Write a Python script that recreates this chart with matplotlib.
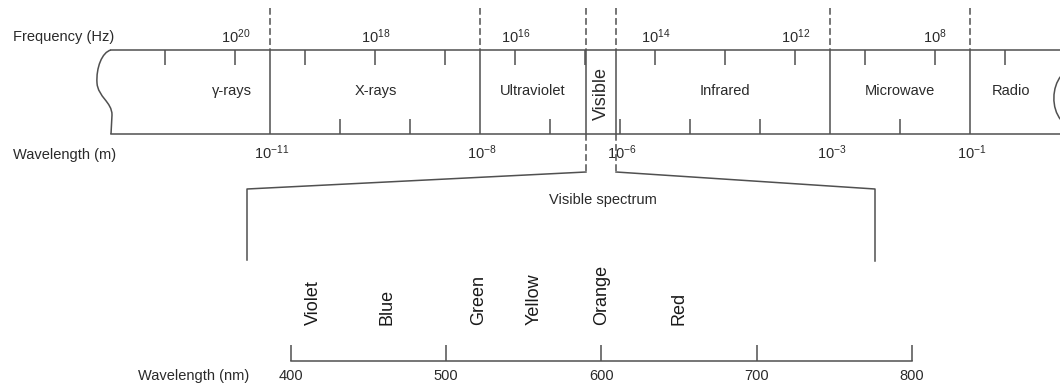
import numpy as np
import matplotlib
matplotlib.use('Agg')
from matplotlib import pyplot as plt
from matplotlib.path import Path
from matplotlib.patches import PathPatch

plt.rcParams['font.family'] = ['Liberation Sans', 'DejaVu Sans']
plt.rcParams['mathtext.fontset'] = 'custom'
plt.rcParams['mathtext.rm'] = 'Liberation Sans'
plt.rcParams['mathtext.it'] = 'Liberation Sans:italic'
plt.rcParams['mathtext.bf'] = 'Liberation Sans:bold'

# electromagnetic band, positions as log10(wavelength / m)
region_names = ['γ-rays', 'X-rays', 'Ultraviolet', 'Visible', 'Infrared', 'Microwave', 'Radio']
region_label_exp = [-11.54, -9.49, -7.25, -6.27, -4.5, -2.0, -0.42]
boundary_exp = [-11, -8, -6.49, -6.06, -3, -1]
visible_edge_exp = [-6.49, -6.06]

freq_tick_exp = [-12.5, -11.5, -10.5, -9.5, -8.5, -7.5, -6.5, -5.5, -4.5, -3.5, -2.5, -1.5, -0.5]
freq_label_exp = [-11.5, -9.5, -7.5, -5.5, -3.5, -1.5]
freq_labels = ['20', '18', '16', '14', '12', '8']

wl_tick_exp = [-10, -9, -7, -6, -5, -4, -2]
wl_label_exp = [-11, -8, -6, -3, -1]
wl_labels = ['-11', '-8', '-6', '-3', '-1']

# visible spectrum, nm
color_names = ['Violet', 'Blue', 'Green', 'Yellow', 'Orange', 'Red']
color_nm = [415, 462, 521, 557, 600, 650]
nm_ticks = [400, 500, 600, 700, 800]

LINE = '#505050'
TEXT = '#2a2a2a'
FS = 10.5

W, H = 1060, 385
DECADE_PX = 70.0
ORIGIN_PX = 1040.25          # pixel of 10^0 m
NM_PX = 1.55375              # pixels per nm
NM400_PX = 290.5

fig = plt.figure(figsize=(W / 100, H / 100), dpi=100)

# pixel-space axes for the drawn outline
ax_px = fig.add_axes([0, 0, 1, 1])
ax_px.set_xlim(0, W)
ax_px.set_ylim(H, 0)
ax_px.axis('off')

# wavelength axes (log scale) for the band
ax_em = fig.add_axes([0, 0, 1, 1])
ax_em.set_xscale('log')
ax_em.set_xlim(10 ** (-ORIGIN_PX / DECADE_PX), 10 ** ((W - ORIGIN_PX) / DECADE_PX))
ax_em.set_ylim(H, 0)
ax_em.axis('off')
ax_em.patch.set_alpha(0)

# nm axes for the visible spectrum
ax_nm = fig.add_axes([0, 0, 1, 1])
ax_nm.set_xlim(400 - NM400_PX / NM_PX, 400 + (W - NM400_PX) / NM_PX)
ax_nm.set_ylim(H, 0)
ax_nm.axis('off')
ax_nm.patch.set_alpha(0)

top, bot = 50, 134
lw = 1.1
dash = (0, (4.4, 2.2))

# band outline
ax_px.plot([111, W], [top, top], color=LINE, lw=lw)
ax_px.plot([111, W], [bot, bot], color=LINE, lw=lw)
left_edge = Path([(111, 50), (102, 52), (96, 68), (97, 83), (98, 97), (112, 102), (112, 115), (111, 134)],
                 [Path.MOVETO, Path.CURVE4, Path.CURVE4, Path.CURVE4, Path.CURVE4, Path.CURVE4, Path.CURVE4,
                  Path.LINETO])
ax_px.add_patch(PathPatch(left_edge, fill=False, edgecolor=LINE, lw=lw))
right_edge = Path([(1061, 76), (1052, 87), (1051, 108), (1061, 120)],
                  [Path.MOVETO, Path.CURVE4, Path.CURVE4, Path.CURVE4])
ax_px.add_patch(PathPatch(right_edge, fill=False, edgecolor=LINE, lw=lw))

wl = lambda e: 10.0 ** np.asarray(e, dtype=float)

# boundaries with dashed extensions above
ax_em.vlines(wl(boundary_exp), top, bot, color=LINE, lw=lw)
ax_em.vlines(wl(boundary_exp), 8, top, color=LINE, lw=lw, linestyles=[dash])
ax_em.vlines(wl(visible_edge_exp), bot, 172, color=LINE, lw=lw, linestyles=[dash])

# frequency ticks (top) and wavelength ticks (bottom)
ax_em.vlines(wl(freq_tick_exp), top, top + 15, color=LINE, lw=lw)
ax_em.vlines(wl(wl_tick_exp), bot - 15, bot, color=LINE, lw=lw)

for e, s in zip(freq_label_exp, freq_labels):
    ax_em.text(wl(e), 43, r'$\mathregular{10^{%s}}$' % s, ha='center', va='baseline',
               fontsize=FS, color=TEXT)
for e, s in zip(wl_label_exp, wl_labels):
    ax_em.text(wl(e) * 10 ** (0.02), 159, r'$\mathregular{10^{%s}}$' % s, ha='center', va='baseline',
               fontsize=FS, color=TEXT)

for name, e in zip(region_names, region_label_exp):
    if name == 'Visible':
        ax_em.text(wl(e), 93, name, ha='center', va='center', rotation=90, fontsize=13, color=TEXT)
    else:
        ax_em.text(wl(e), 91, name, ha='center', va='center', fontsize=FS, color=TEXT)

ax_px.text(13, 37, 'Frequency (Hz)', ha='left', va='center', fontsize=FS, color=TEXT)
ax_px.text(13, 155, 'Wavelength (m)', ha='left', va='center', fontsize=FS, color=TEXT)

# bracket opening onto the visible spectrum
ax_px.plot([586, 247, 247], [172, 189, 260], color=LINE, lw=lw)
ax_px.plot([616, 875, 875], [172, 189, 261], color=LINE, lw=lw)
ax_px.text(603, 200, 'Visible spectrum', ha='center', va='center', fontsize=FS, color=TEXT)

# visible spectrum axis
ax_nm.plot([nm_ticks[0], nm_ticks[-1]], [361, 361], color=LINE, lw=lw)
ax_nm.vlines(nm_ticks, 345, 361, color=LINE, lw=lw)
for t in nm_ticks:
    ax_nm.text(t, 376, str(t), ha='center', va='center', fontsize=FS, color=TEXT)
for name, x in zip(color_names, color_nm):
    ax_nm.text(x, 325, name, ha='center', va='bottom', rotation=90, fontsize=13, color='#1a1a1a')
ax_px.text(138, 376, 'Wavelength (nm)', ha='left', va='center', fontsize=FS, color=TEXT)

fig.savefig('out.png', dpi=100)
